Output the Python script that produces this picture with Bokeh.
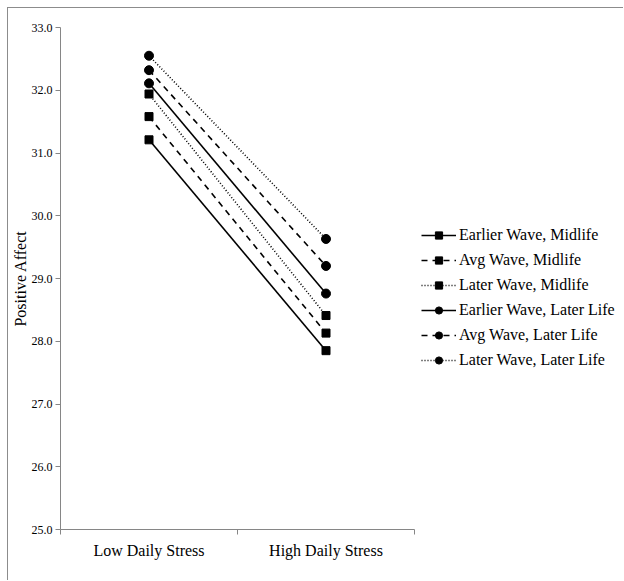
from bokeh.plotting import figure
from bokeh.models import Range1d, FixedTicker, Legend, LegendItem, NumeralTickFormatter
from bokeh.embed import file_html
from bokeh.resources import INLINE

# ---- data ----
categories = ["Low Daily Stress", "High Daily Stress"]
y_ticks = [25.0, 26.0, 27.0, 28.0, 29.0, 30.0, 31.0, 32.0, 33.0]

series_names = [
    "Earlier Wave, Midlife",
    "Avg Wave, Midlife",
    "Later Wave, Midlife",
    "Earlier Wave, Later Life",
    "Avg Wave, Later Life",
    "Later Wave, Later Life",
]
earlier_midlife = [31.21, 27.85]
avg_midlife = [31.58, 28.13]
later_midlife = [31.94, 28.41]
earlier_laterlife = [32.11, 28.76]
avg_laterlife = [32.32, 29.20]
later_laterlife = [32.55, 29.63]

series_values = [earlier_midlife, avg_midlife, later_midlife,
                 earlier_laterlife, avg_laterlife, later_laterlife]
series_markers = ["square", "square", "square", "circle", "circle", "circle"]
series_dashes = ["solid", "6 5", "1 2", "solid", "6 5", "1 2"]

# ---- figure ----
FONT = "Liberation Serif"
AXIS_GRAY = "#868686"

n = len(categories)
x_pos = [i + 0.5 for i in range(n)]
# frame extends to the right to leave room for the legend; axis line is bounded to the categories
x_end = n * 562 / 354.0

p = figure(width=616, height=573, output_backend="svg", toolbar_location=None,
           x_range=Range1d(0, x_end), y_range=Range1d(y_ticks[0], y_ticks[-1]),
           min_border_left=52, min_border_top=19, min_border_bottom=52, min_border_right=2)
p.styles = {"margin-left": "7px", "margin-top": "7px",
            "border-left": "1px solid #8c8c8c", "border-top": "1px solid #8c8c8c"}
p.outline_line_color = None
p.xgrid.visible = False
p.ygrid.visible = False
p.background_fill_color = "white"
p.border_fill_color = "white"

# x axis
p.xaxis.bounds = (0, n)
p.xaxis.ticker = FixedTicker(ticks=x_pos, minor_ticks=list(range(n + 1)))
p.xaxis.major_label_overrides = {x: c for x, c in zip(x_pos, categories)}
p.xaxis.major_tick_out = 0
p.xaxis.major_tick_in = 0
p.xaxis.minor_tick_out = 5
p.xaxis.minor_tick_in = 0
p.xaxis.minor_tick_line_color = AXIS_GRAY
p.xaxis.axis_line_color = AXIS_GRAY
p.xaxis.major_label_text_font = FONT
p.xaxis.major_label_text_font_size = "16px"
p.xaxis.major_label_text_color = "black"
p.xaxis.major_label_standoff = 7

# y axis
p.yaxis.ticker = FixedTicker(ticks=y_ticks, minor_ticks=[])
p.yaxis.formatter = NumeralTickFormatter(format="0.0")
p.yaxis.major_tick_out = 5
p.yaxis.major_tick_in = 0
p.yaxis.major_tick_line_color = AXIS_GRAY
p.yaxis.axis_line_color = AXIS_GRAY
p.yaxis.major_label_text_font = FONT
p.yaxis.major_label_text_font_size = "12px"
p.yaxis.major_label_text_color = "black"
p.yaxis.major_label_standoff = 3
p.yaxis.axis_label = "Positive Affect"
p.yaxis.axis_label_text_font = FONT
p.yaxis.axis_label_text_font_size = "16px"
p.yaxis.axis_label_text_font_style = "normal"
p.yaxis.axis_label_text_color = "black"
p.yaxis.axis_label_standoff = 0

items = []
for name, vals, mk, dash in zip(series_names, series_values, series_markers, series_dashes):
    r1 = p.line(x_pos, vals, line_color="black", line_width=1.6, line_dash=dash)
    r2 = p.scatter(x_pos, vals, marker=mk, size=8 if mk == "square" else 9,
                   fill_color="black", line_color="black")
    items.append(LegendItem(label=name, renderers=[r1, r2]))

legend = Legend(items=items, location=(361, 160))
legend.label_text_font = FONT
legend.label_text_font_size = "16px"
legend.label_text_color = "black"
legend.glyph_width = 35
legend.glyph_height = 18
legend.label_standoff = 3
legend.spacing = 7
legend.padding = 0
legend.margin = 0
legend.border_line_color = None
legend.background_fill_alpha = 0
p.add_layout(legend, "center")

open("out.html", "w").write(file_html(p, INLINE))
